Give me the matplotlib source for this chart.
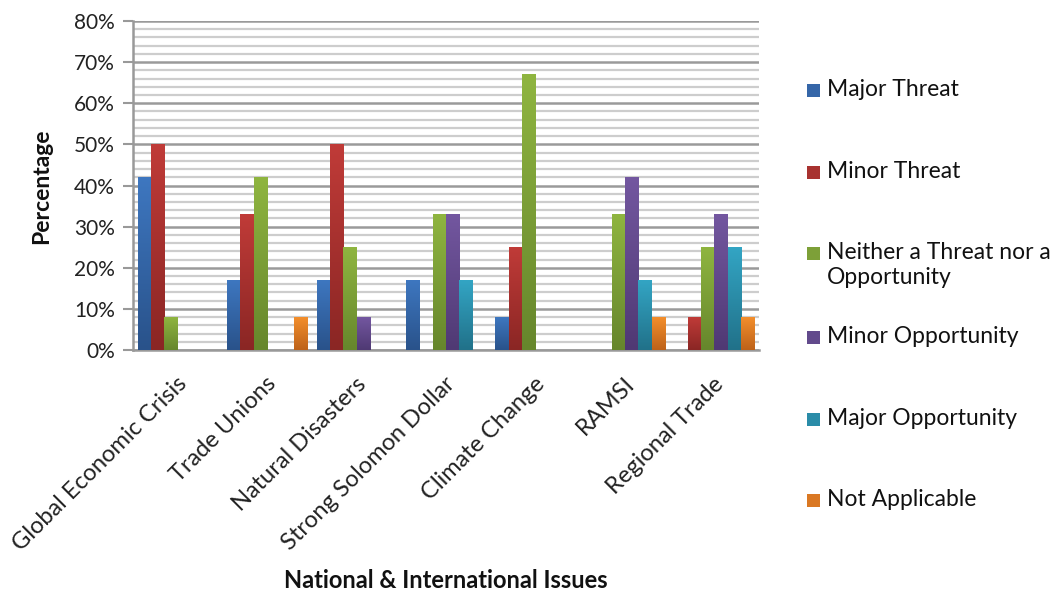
import numpy as np
import matplotlib
matplotlib.use("Agg")
import matplotlib.pyplot as plt
import matplotlib.transforms as mtransforms
from matplotlib.colors import LinearSegmentedColormap
from matplotlib.patches import Rectangle

categories = ["Global Economic Crisis", "Trade Unions", "Natural Disasters",
              "Strong Solomon Dollar", "Climate Change", "RAMSI", "Regional Trade"]
series_names = ["Major Threat", "Minor Threat", "Neither a Threat nor a\nOpportunity",
                "Minor Opportunity", "Major Opportunity", "Not Applicable"]
major_threat = [42, 17, 17, 17, 8, 0, 0]
minor_threat = [50, 33, 50, 0, 25, 0, 8]
neither = [8, 42, 25, 33, 67, 33, 25]
minor_opp = [0, 0, 8, 33, 0, 42, 33]
major_opp = [0, 0, 0, 17, 0, 17, 25]
not_applicable = [0, 8, 0, 0, 0, 8, 8]
yticks = [0, 10, 20, 30, 40, 50, 60, 70, 80]
ytick_labels = ["0%", "10%", "20%", "30%", "40%", "50%", "60%", "70%", "80%"]

series = [major_threat, minor_threat, neither, minor_opp, major_opp, not_applicable]
top_cols = ["#3E77C0", "#C03B38", "#8FB540", "#7357A0", "#33A5C4", "#F38E2C"]
bot_cols = ["#29528A", "#8A2624", "#66862C", "#4F3973", "#217189", "#BD6219"]
mid_cols = ["#3566A8", "#A83230", "#7DA038", "#624A8C", "#2A8CA8", "#DA7823"]

FONT = ["Lato", "DejaVu Sans"]
plt.rcParams["font.family"] = FONT

fig = plt.figure(figsize=(10.58, 5.91), dpi=100)
W, H = 1058, 591
ax = fig.add_axes([133 / W, 1 - 350 / H, (759 - 133) / W, (350 - 21) / H])

n = len(categories)
x = np.arange(n)
bw = 0.149
offsets = (np.arange(6) - 2.5) * bw

grad = np.linspace(0, 1, 256).reshape(-1, 1)
for i, vals in enumerate(series):
    cmap = LinearSegmentedColormap.from_list("g%d" % i, [bot_cols[i], top_cols[i]])
    bars = ax.bar(x + offsets[i], vals, width=bw, color=mid_cols[i], zorder=3,
                  linewidth=0)
    for b, v in zip(bars, vals):
        if v <= 0:
            continue
        x0 = b.get_x()
        im = ax.imshow(grad, extent=(x0, x0 + bw, 0, v), origin="lower", aspect="auto",
                       cmap=cmap, zorder=3.5, interpolation="bilinear")
        im.set_clip_path(b)

ax.set_xlim(-0.5, n - 0.5)
ax.set_ylim(0, 80)
ax.set_yticks(yticks)
ax.set_yticklabels(ytick_labels, fontsize=15, color="#222222")
ax.set_yticks(np.arange(0, 81, 2), minor=True)
ax.tick_params(axis="y", which="major", length=7, width=1.5, color="#999999", pad=6)
ax.tick_params(axis="y", which="minor", length=0)
ax.grid(axis="y", which="major", color="#9a9a9a", linewidth=1.8, zorder=0)
ax.grid(axis="y", which="minor", color="#cdcdcd", linewidth=1.6, zorder=0)
ax.set_axisbelow(True)

ax.set_xticks(x)
ax.set_xticklabels(categories, rotation=45, ha="right", va="center",
                   rotation_mode="anchor", fontsize=17, color="#222222")
ax.tick_params(axis="x", length=0, pad=22)
shift = mtransforms.ScaledTranslation(6 / 100, 0, fig.dpi_scale_trans)
for lbl in ax.get_xticklabels():
    lbl.set_transform(lbl.get_transform() + shift)

for s in ["top", "right"]:
    ax.spines[s].set_visible(False)
ax.spines["left"].set_color("#999999")
ax.spines["left"].set_linewidth(1.8)
ax.spines["bottom"].set_color("#999999")
ax.spines["bottom"].set_linewidth(1.8)

fig.text(42 / W, 1 - 186 / H, "Percentage", rotation=90, ha="center", va="center",
         fontsize=16.5, fontweight="bold", color="#111111")
fig.text(446 / W, 1 - 580 / H, "National & International Issues", ha="center",
         va="center", fontsize=17, fontweight="bold", color="#111111")

# legend
leg_y = [91, 173, 254, 338, 420, 501]
for i, name in enumerate(series_names):
    y = leg_y[i]
    fig.patches.append(Rectangle((807 / W, 1 - (y + 6) / H), 13 / W, 13 / H,
                                 transform=fig.transFigure, facecolor=mid_cols[i],
                                 edgecolor="none"))
    fig.text(827 / W, 1 - (y - 12) / H, name, ha="left", va="top", fontsize=16.5,
             color="#111111", linespacing=1.25)

fig.savefig("out.png", dpi=100)
